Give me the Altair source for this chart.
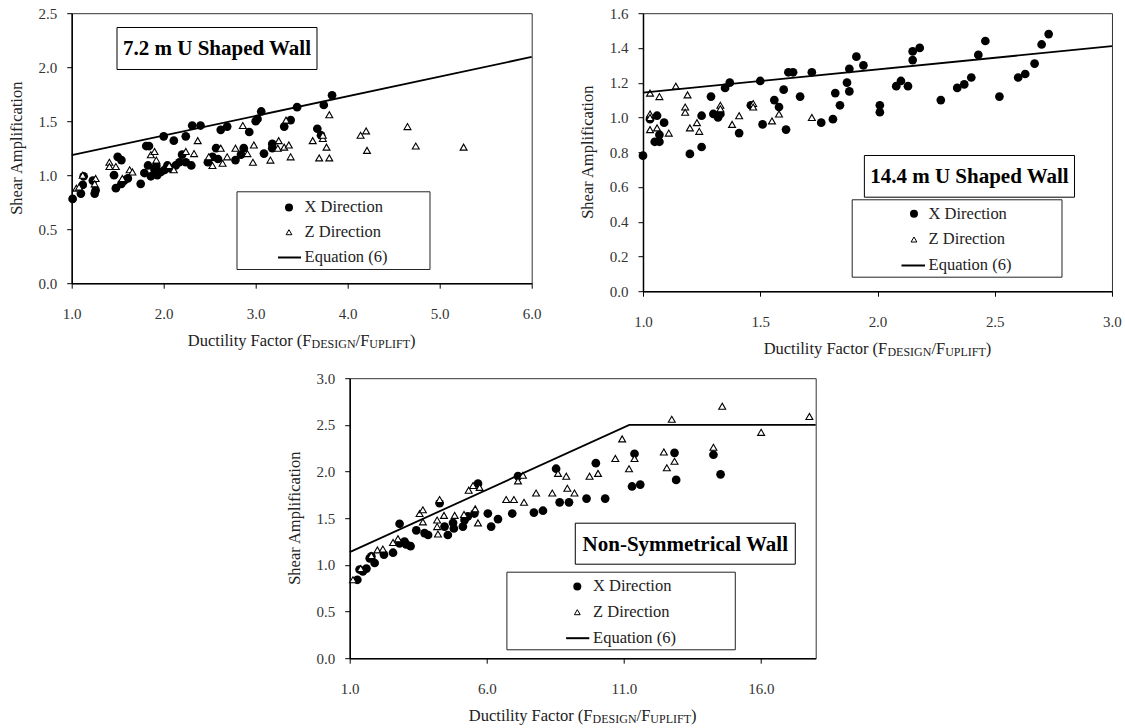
import altair as alt
import pandas as pd

FONT = "Liberation Serif"

# ---------------- Panel 1: 7.2 m U Shaped Wall ----------------
p1_xdir_x = [1.01, 1.10, 1.12, 1.13, 1.23, 1.25, 1.26, 1.46, 1.50, 1.54, 1.48, 1.54, 1.57, 1.61,
             1.75, 1.79, 1.81, 1.84, 1.86, 1.83, 1.90, 1.92, 1.93, 1.97, 2.01, 2.04, 2.08, 2.13,
             2.17, 2.20, 2.24, 2.30, 2.00, 2.11, 2.24, 2.31, 2.40, 2.48, 2.53, 2.57, 2.59, 2.62,
             2.69, 2.78, 2.84, 2.87, 2.93, 3.00, 3.02, 3.06, 3.09, 3.18, 3.18, 3.31, 3.38, 3.45,
             3.67, 3.71, 3.74, 3.83]
p1_xdir_y = [0.78, 0.83, 0.91, 0.99, 0.95, 0.83, 0.86, 1.00, 1.17, 1.14, 0.88, 0.92, 0.95, 0.97,
             0.92, 1.02, 1.27, 1.27, 0.99, 1.09, 1.05, 1.09, 1.00, 1.03, 1.05, 1.09, 1.06, 1.09,
             1.12, 1.19, 1.12, 1.09, 1.36, 1.32, 1.36, 1.46, 1.46, 1.12, 1.17, 1.25, 1.15, 1.42,
             1.45, 1.14, 1.19, 1.25, 1.40, 1.50, 1.52, 1.59, 1.20, 1.29, 1.25, 1.45, 1.51, 1.63,
             1.43, 1.37, 1.65, 1.74]
p1_zdir_x = [1.05, 1.08, 1.12, 1.26, 1.25, 1.41, 1.41, 1.48, 1.63, 1.66, 1.55, 1.86, 1.90, 1.92,
             2.06, 2.11, 2.24, 2.33, 2.37, 2.49, 2.53, 2.62, 2.64, 2.69, 2.78, 2.86, 2.91, 2.97,
             2.98, 3.16, 3.25, 3.24, 3.31, 3.36, 3.33, 3.38, 3.62, 3.73, 3.73, 3.77, 3.69, 3.80,
             3.80, 4.14, 4.20, 4.21, 4.65, 4.74, 5.26]
p1_zdir_y = [0.88, 0.89, 1.00, 0.97, 0.92, 1.12, 1.08, 1.08, 1.05, 1.03, 0.97, 1.19, 1.22, 1.14,
             1.09, 1.05, 1.22, 1.20, 1.32, 1.17, 1.09, 1.25, 1.11, 1.17, 1.25, 1.46, 1.20, 1.12,
             1.28, 1.14, 1.32, 1.25, 1.26, 1.28, 1.51, 1.17, 1.32, 1.34, 1.37, 1.26, 1.16, 1.16,
             1.56, 1.37, 1.41, 1.23, 1.45, 1.27, 1.26]
p1_eq_x = [1.0, 6.0]
p1_eq_y = [1.185, 2.095]

# ---------------- Panel 2: 14.4 m U Shaped Wall ----------------
p2_xdir_x = [1.00, 1.03, 1.05, 1.06, 1.07, 1.07, 1.09, 1.20, 1.25, 1.25, 1.29, 1.30, 1.32, 1.33,
             1.35, 1.37, 1.41, 1.46, 1.50, 1.51, 1.56, 1.58, 1.60, 1.61, 1.62, 1.64, 1.67, 1.72,
             1.76, 1.81, 1.82, 1.84, 1.87, 1.88, 1.88, 1.91, 1.94, 2.01, 2.01, 2.08, 2.10, 2.13,
             2.15, 2.15, 2.18, 2.27, 2.34, 2.37, 2.40, 2.43, 2.46, 2.52, 2.60, 2.63, 2.67, 2.70,
             2.73]
p2_xdir_y = [0.78, 0.99, 0.86, 1.01, 0.86, 0.90, 0.97, 0.79, 0.83, 1.01, 1.12, 1.02, 1.00, 1.02,
             1.17, 1.20, 0.91, 1.07, 1.21, 0.96, 1.10, 1.06, 1.16, 0.93, 1.26, 1.26, 1.12, 1.26,
             0.97, 0.99, 1.14, 1.07, 1.20, 1.15, 1.28, 1.35, 1.30, 1.07, 1.03, 1.18, 1.21, 1.18,
             1.33, 1.38, 1.40, 1.10, 1.17, 1.19, 1.23, 1.36, 1.44, 1.12, 1.23, 1.25, 1.31, 1.42,
             1.48]
p2_zdir_x = [1.03, 1.03, 1.03, 1.03, 1.06, 1.07, 1.11, 1.14, 1.18, 1.18, 1.19, 1.20, 1.23, 1.24,
             1.33, 1.33, 1.38, 1.41, 1.47, 1.47, 1.55, 1.58, 1.72]
p2_zdir_y = [1.14, 1.02, 1.00, 0.93, 0.94, 1.12, 0.91, 1.18, 1.06, 1.03, 1.13, 0.94, 0.97, 0.92,
             1.07, 1.05, 0.96, 1.01, 1.08, 1.06, 0.98, 1.02, 1.00]
p2_eq_x = [1.0, 3.0]
p2_eq_y = [1.143, 1.41]

# ---------------- Panel 3: Non-Symmetrical Wall ----------------
p3_xdir_x = [1.28, 1.36, 1.48, 1.61, 1.73, 1.79, 1.91, 2.25, 2.58, 2.82, 2.82, 3.00, 3.06, 3.22,
             3.43, 3.73, 3.86, 4.28, 4.46, 4.58, 4.77, 4.80, 5.13, 5.19, 5.31, 5.55, 5.68, 6.04,
             6.16, 6.41, 6.93, 7.14, 7.72, 8.05, 8.53, 8.66, 9.00, 9.64, 9.98, 10.32, 11.30,
             11.60, 11.39, 12.91, 12.85, 14.27, 14.53]
p3_xdir_y = [0.84, 0.95, 0.93, 0.96, 1.07, 1.09, 1.02, 1.11, 1.13, 1.44, 1.23, 1.25, 1.22, 1.20,
             1.37, 1.34, 1.32, 1.66, 1.41, 1.32, 1.45, 1.39, 1.41, 1.48, 1.52, 1.55, 1.87, 1.55,
             1.41, 1.49, 1.55, 1.95, 1.56, 1.58, 2.03, 1.67, 1.67, 1.71, 2.09, 1.71, 1.84,
             1.86, 2.19, 1.91, 2.20, 2.18, 1.97]
p3_zdir_x = [1.12, 1.40, 1.79, 2.01, 2.21, 2.58, 2.76, 3.55, 3.67, 3.67, 4.19, 4.19, 4.22, 4.28,
             4.44, 4.83, 5.17, 5.34, 5.50, 5.58, 5.68, 5.74, 6.71, 6.99, 7.36, 7.14, 7.32, 7.80,
             8.39, 8.60, 8.90, 8.94, 9.20, 9.75, 10.06, 10.69, 10.94, 11.19, 11.39, 12.46, 12.57,
             12.85, 12.75, 14.27, 14.59, 16.01, 17.77]
p3_zdir_y = [0.84, 0.96, 1.10, 1.16, 1.17, 1.24, 1.28, 1.55, 1.59, 1.46, 1.48, 1.41, 1.33, 1.70,
             1.53, 1.53, 1.54, 1.80, 1.85, 1.60, 1.45, 1.83, 1.70, 1.70, 1.67, 1.90, 1.96, 1.77,
             1.77, 1.98, 1.95, 1.82, 1.77, 1.95, 1.98, 2.14, 2.35, 2.03, 2.14, 2.21, 2.04,
             2.11, 2.56, 2.26, 2.70, 2.42, 2.59]
p3_eq_x = [1.0, 11.2, 18.0]
p3_eq_y = [1.136, 2.5, 2.5]

# ---------------- labels ----------------
legend_labels = ["X Direction", "Z Direction", "Equation (6)"]
y_title = "Shear Amplification"
x_title_parts = [("Ductility Factor (F", False), ("DESIGN", True), ("/F", False),
                 ("UPLIFT", True), (")", False)]

# Times / Liberation Serif advance widths (per 1000 em) for title layout
TW = {" ": 250, "(": 333, ")": 333, "/": 278, "D": 722, "u": 500, "c": 444, "t": 278,
      "i": 278, "l": 278, "y": 500, "F": 556, "a": 444, "o": 500, "r": 333, "E": 611,
      "S": 556, "I": 333, "G": 722, "N": 722, "U": 722, "P": 556, "L": 611, "T": 611}

MAIN_FS = 16.5
SUB_FS = 12
TICK_FS = 15
LEG_FS = 16.5
TITLE_FS = 21


def text_w(s, fs):
    return sum(TW.get(c, 500) for c in s) / 1000.0 * fs


def one_row():
    return pd.DataFrame({"k": [0]})


def panel(xd_x, xd_y, zd_x, zd_y, eq_x, eq_y, xdom, ydom, xticks, yticks, w, h,
          title, tbox, lbox, sym_x, rows_y, line_x, txt_x):
    xs = alt.Scale(domain=xdom, nice=False, zero=False)
    ys = alt.Scale(domain=ydom, nice=False, zero=False)
    common = dict(grid=False, title=None, format=".1f", tickSize=5, tickColor="black",
                  domainColor="black", domainWidth=1.5, labelColor="#333",
                  labelFont=FONT, labelFontSize=TICK_FS, labelFlush=False,
                  labelOverlap=False)
    xax = alt.Axis(values=xticks, labelPadding=18, **common)
    yax = alt.Axis(values=yticks, labelPadding=10, **common)
    X = alt.X("x:Q", scale=xs, axis=xax)
    Y = alt.Y("y:Q", scale=ys, axis=yax)

    dfx = pd.DataFrame({"x": xd_x, "y": xd_y})
    dfz = pd.DataFrame({"x": zd_x, "y": zd_y})
    dfe = pd.DataFrame({"x": eq_x, "y": eq_y})

    circles = alt.Chart(dfx).mark_point(shape="circle", filled=True, color="black",
                                        size=76, opacity=1).encode(x=X, y=Y)
    tris = alt.Chart(dfz).mark_point(shape="triangle-up", filled=True, fill="white",
                                     stroke="black", strokeWidth=1.1, size=48,
                                     opacity=1).encode(x=X, y=Y)
    line = alt.Chart(dfe).mark_line(color="black", strokeWidth=1.8).encode(x=X, y=Y)

    layers = [circles, tris, line]

    # title box
    layers.append(alt.Chart(one_row()).mark_rect(fill="white", stroke="black", strokeWidth=1)
                  .encode(x=alt.value(tbox[0]), x2=alt.value(tbox[1]),
                          y=alt.value(tbox[2]), y2=alt.value(tbox[3])))
    layers.append(alt.Chart(one_row()).mark_text(text=title, font=FONT, fontSize=TITLE_FS,
                                                 fontWeight="bold", color="black",
                                                 align="center", baseline="middle")
                  .encode(x=alt.value((tbox[0] + tbox[1]) / 2),
                          y=alt.value((tbox[2] + tbox[3]) / 2 + 1)))
    # legend box
    layers.append(alt.Chart(one_row()).mark_rect(fill="white", stroke="#222", strokeWidth=1)
                  .encode(x=alt.value(lbox[0]), x2=alt.value(lbox[1]),
                          y=alt.value(lbox[2]), y2=alt.value(lbox[3])))
    layers.append(alt.Chart(one_row()).mark_point(shape="circle", filled=True, color="black",
                                                  size=64, opacity=1)
                  .encode(x=alt.value(sym_x), y=alt.value(rows_y[0])))
    layers.append(alt.Chart(one_row()).mark_point(shape="triangle-up", filled=True,
                                                  fill="white", stroke="black",
                                                  strokeWidth=1, size=34, opacity=1)
                  .encode(x=alt.value(sym_x), y=alt.value(rows_y[1])))
    layers.append(alt.Chart(one_row()).mark_rule(color="black", strokeWidth=2)
                  .encode(x=alt.value(line_x[0]), x2=alt.value(line_x[1]),
                          y=alt.value(rows_y[2])))
    for lab, ry in zip(legend_labels, rows_y):
        layers.append(alt.Chart(one_row()).mark_text(text=lab, font=FONT, fontSize=LEG_FS,
                                                     color="#222", align="left",
                                                     baseline="middle")
                      .encode(x=alt.value(txt_x), y=alt.value(ry)))

    # y axis title
    layers.append(alt.Chart(one_row()).mark_text(text=y_title, font=FONT, fontSize=MAIN_FS,
                                                 color="#222", angle=270, align="center",
                                                 baseline="middle")
                  .encode(x=alt.value(-55), y=alt.value(h / 2)))
    # x axis title with subscripts
    widths = [text_w(s, SUB_FS if sub else MAIN_FS) for s, sub in x_title_parts]
    cx = w / 2 - sum(widths) / 2
    base = h + 63
    for (s, sub), wd in zip(x_title_parts, widths):
        layers.append(alt.Chart(one_row()).mark_text(text=s, font=FONT,
                                                     fontSize=SUB_FS if sub else MAIN_FS,
                                                     color="#222", align="left",
                                                     baseline="alphabetic")
                      .encode(x=alt.value(cx), y=alt.value(base + (2 if sub else 0))))
        cx += wd

    return alt.layer(*layers).properties(width=w, height=h)


p1 = panel(p1_xdir_x, p1_xdir_y, p1_zdir_x, p1_zdir_y, p1_eq_x, p1_eq_y,
           [1, 6], [0, 2.5], [1, 2, 3, 4, 5, 6], [0, 0.5, 1.0, 1.5, 2.0, 2.5],
           460, 270, "7.2 m U Shaped Wall",
           (45.3, 245.3, 14.3, 56.3), (165.3, 358.3, 178.6, 256.3),
           217.3, (194.3, 219.0, 244.3), (206.3, 229.3), 232.9)

p2 = panel(p2_xdir_x, p2_xdir_y, p2_zdir_x, p2_zdir_y, p2_eq_x, p2_eq_y,
           [1, 3], [0, 1.6], [1.0, 1.5, 2.0, 2.5, 3.0], [0, 0.2, 0.4, 0.6, 0.8, 1.0, 1.2, 1.4, 1.6],
           469, 278, "14.4 m U Shaped Wall",
           (221.4, 431.5, 142.3, 184.0), (209.2, 419.0, 186.6, 264.0),
           271.0, (200.6, 226.3, 252.3), (258.5, 282.0), 285.6)

p3 = panel(p3_xdir_x, p3_xdir_y, p3_zdir_x, p3_zdir_y, p3_eq_x, p3_eq_y,
           [1, 18], [0, 3.0], [1, 6, 11, 16], [0, 0.5, 1.0, 1.5, 2.0, 2.5, 3.0],
           466, 280, "Non-Symmetrical Wall",
           (225.6, 445.6, 145.0, 186.0), (157.2, 385.6, 194.0, 271.6),
           227.6, (208.3, 234.0, 260.0), (216.4, 239.6), 243.4)

spacer = (alt.Chart(one_row()).mark_point(opacity=0)
          .encode(x=alt.value(0), y=alt.value(0))
          .properties(width=277.7, height=10, view=alt.ViewBackground(strokeOpacity=0)))

row1 = alt.hconcat(p1, p2, spacing=111.3, bounds="flush")
row2 = alt.hconcat(spacer, p3, spacing=0, bounds="flush")

chart = (alt.vconcat(row1, row2, spacing=11)
         .properties(padding={"left": 7.7, "top": 5.2, "right": 0, "bottom": 0},
                     background="white")
         .configure(font=FONT)
         .configure_view(stroke="#333", strokeWidth=1))

chart.save("out.html", embed_options={"renderer": "svg", "actions": False})
